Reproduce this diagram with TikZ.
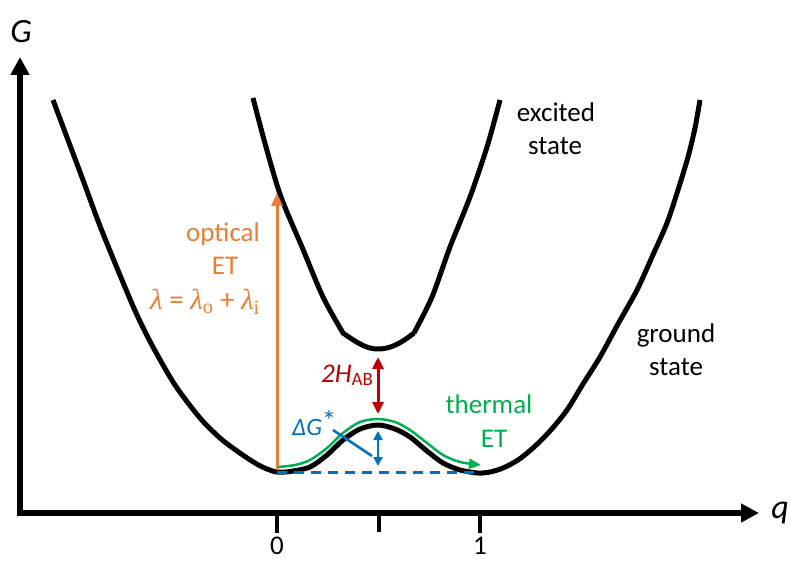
\documentclass[tikz,border=0pt]{standalone}
\usepackage{fontspec}
\setmainfont{Carlito}
\newfontfamily\lamfont{Liberation Serif}
\usetikzlibrary{arrows.meta}
\definecolor{etorange}{HTML}{ED7D31}
\definecolor{etgreen}{HTML}{00B050}
\definecolor{etblue}{HTML}{0070C0}
\definecolor{etred}{HTML}{C00000}
\tikzset{
  axisline/.style={line width=6pt, -{Triangle[length=18pt,width=18pt]}},
  tickline/.style={line width=4pt},
  pes/.style={line width=5pt, line join=round},
  lbl/.style={inner sep=0pt, anchor=base, font=\fontsize{27}{33}\selectfont},
  axlbl/.style={lbl, font=\fontsize{34}{40}\selectfont\itshape},
}
\begin{document}
\begin{tikzpicture}[x=1pt,y=-1pt]
\useasboundingbox (0,0) rectangle (790,561);
% axes
\coordinate (yb) at (20,516);
\coordinate (yt) at (20,57);
\coordinate (xl) at (17,513);
\coordinate (xr) at (759,513);
\draw[axisline] (yb) -- (yt);
\draw[axisline] (xl) -- (xr);
\node[axlbl] (G) at (21,43) {G};
\node[axlbl] (q) at (780,518) {q};
% ticks
\coordinate (t0) at (277,513);
\coordinate (th) at (379,513);
\coordinate (t1) at (480,513);
\draw[tickline] (t0) -- ++(0,20);
\draw[tickline] (th) -- ++(0,19);
\draw[tickline] (t1) -- ++(0,20);
\node[lbl] (l0) at (277,554) {0};
\node[lbl] (l1) at (480,554) {1};
% ground state
\draw[pes] plot[smooth, tension=0.5] coordinates {
 (53,100) (68,140) (83,180) (100,226) (122,280) (137,315) (153,347)
 (175,385) (200,418) (220,438) (237,451) (255,463) (267,469) (277,472)
 (290,471.5) (310,467) (327,455) (343,440) (360,429) (378,425)
 (395,429) (410,437) (427,451) (443,463) (460,470) (478,473)
 (490,472) (503,468) (518,460) (533,448) (550,431) (567,410)
 (583,384) (600,357) (618,324) (637,290) (652,257) (667,223)
 (678,190) (688,157) (695,128) (700,100)};
% excited state
\draw[pes] plot[smooth, tension=0.5] coordinates {
 (253,98) (266,147) (281,197) (302,247) (323,297) (343,333)}
 .. controls (360,345) and (368,349) .. (378,349)
 .. controls (390,349) and (400,344) .. (414,333)
 plot[smooth, tension=0.5] coordinates {
 (414,333) (432,297) (450,247) (470,197) (487,147) (500,100)};
\node[lbl] (exc1) at (556,122) {excited};
\node[lbl] (exc2) at (555,155) {state};
\node[lbl] (gnd1) at (676,343) {ground};
\node[lbl] (gnd2) at (676,375) {state};
% optical ET
\coordinate (oa) at (277,470);
\coordinate (ob) at (277,193);
\draw[etorange, line width=3pt, -{Triangle[length=13pt,width=11pt]}] (oa) -- (ob);
\node[lbl, text=etorange] (opt1) at (223,242) {optical};
\node[lbl, text=etorange] (opt2) at (225,275) {ET};
\node[lbl, text=etorange, font=\fontsize{29}{33}\selectfont] (opt3) at (205,310) {{\lamfont\itshape λ} = {\lamfont\itshape λ}\textsubscript{\lamfont o} + {\lamfont\itshape λ}\textsubscript{\lamfont i}};
% 2H_AB
\coordinate (ra) at (378,357);
\coordinate (rb) at (378,414);
\draw[etred, line width=3pt, {Triangle[length=12pt,width=11pt]}-{Triangle[length=12pt,width=11pt]}] (ra) -- (rb);
\node[lbl, anchor=base west, text=etred] (hab) at (321,382) {{\itshape 2H}\textsubscript{AB}};
% thermal ET
\draw[etgreen, line width=2.5pt, -{Triangle[length=12pt,width=10pt]}] plot[smooth, tension=0.5] coordinates {
 (278,467) (295,465) (310,460) (327,448) (343,433) (360,422) (378,419)
 (395,422) (410,430) (427,443) (443,455) (460,462) (481,465)};
\node[lbl, text=etgreen] (th1) at (489,413) {thermal};
\node[lbl, text=etgreen] (th2) at (494,447) {ET};
% activation
\coordinate (da) at (277,472);
\coordinate (db) at (481,472);
\draw[etblue, line width=3pt, dash pattern=on 10pt off 7pt] (da) -- (db);
\coordinate (ba) at (378,431);
\coordinate (bb) at (378,466);
\draw[etblue, line width=2.5pt, {Triangle[length=9pt,width=9pt]}-{Triangle[length=9pt,width=9pt]}] (ba) -- (bb);
\node[lbl, anchor=base west, text=etblue, font=\fontsize{25}{30}\selectfont] (dg) at (292,435) {{\itshape ΔG}\raisebox{5pt}{\fontsize{28}{28}\selectfont *}};
\coordinate (pa) at (333,430);
\coordinate (pb) at (372,456);
\draw[etblue, line width=2.5pt] (pa) -- (pb);
\end{tikzpicture}
\end{document}
